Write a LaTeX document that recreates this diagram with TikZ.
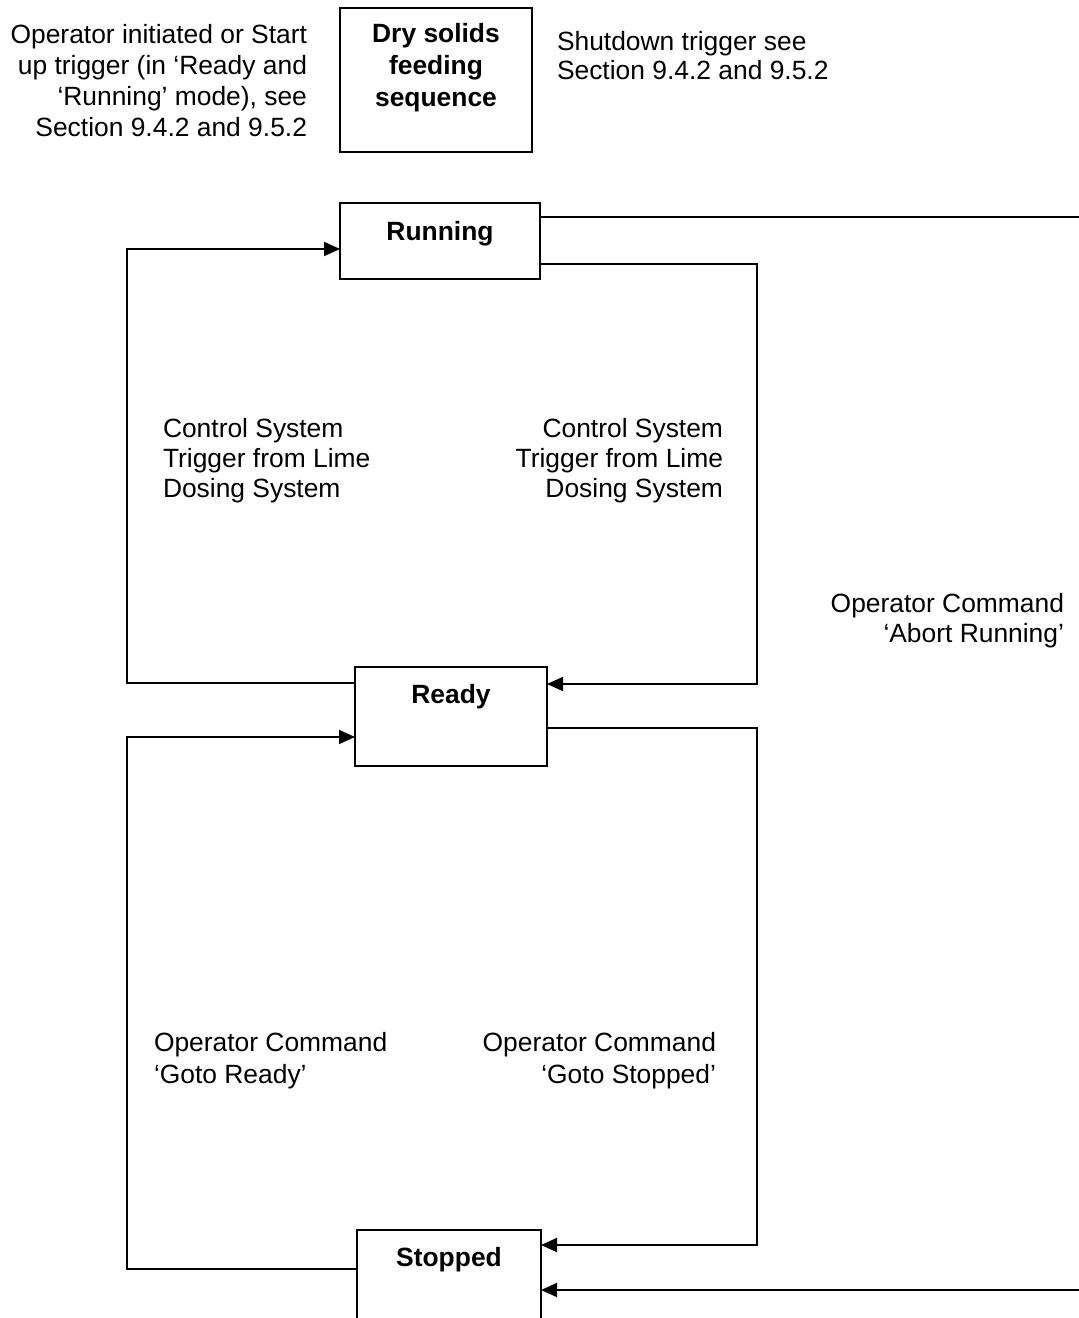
\documentclass[tikz,border=0pt]{standalone}
\usepackage{fontspec}
\setmainfont{Liberation Sans}
\usetikzlibrary{arrows.meta}

\begin{document}
\begin{tikzpicture}[
  x=1pt, y=-1pt,
  every node/.style={inner sep=0pt, outer sep=0pt},
  statebox/.style={draw, line width=1.7pt, anchor=north west},
  boxtext/.style={anchor=north, align=center,
    font=\fontsize{26.4}{32}\selectfont\bfseries},
  note/.style={font=\fontsize{26.4}{#1}\selectfont},
  note/.default=30,
  arr/.style={line width=1.7pt, -{Triangle[length=16pt,width=14pt]}}
]
\clip (0,0) rectangle (1079,1318);

% state boxes
\node[statebox, minimum width=192pt, minimum height=144pt,
  label={[boxtext, yshift=-15.5pt]north:Dry solids\\feeding\\sequence}]
  (dry) at (340,8) {};
\node[statebox, minimum width=200pt, minimum height=76pt,
  label={[boxtext, yshift=-18.5pt]north:Running}]
  (run) at (340,203) {};
\node[statebox, minimum width=192pt, minimum height=99pt,
  label={[boxtext, yshift=-17.5pt]north:Ready}]
  (ready) at (355,667) {};
\node[statebox, minimum width=184pt, minimum height=110pt,
  label={[boxtext, yshift=-17.5pt]north:Stopped}]
  (stop) at (357,1230) {};

% text beside the feeding sequence box
\node[note=31.2, anchor=north east, align=right] (starttxt) at (307,24)
  {Operator initiated or Start\\up trigger (in ‘Ready and\\‘Running’ mode), see\\Section 9.4.2 and 9.5.2};
\node[note=29, anchor=north west, align=left] (shuttxt) at (557,31.5)
  {Shutdown trigger see\\Section 9.4.2 and 9.5.2};

% transition labels
\node[note=30, anchor=north west, align=left] (ctrlup) at (163,418.5)
  {Control System\\Trigger from Lime\\Dosing System};
\node[note=30, anchor=north east, align=right] (ctrldown) at (723,418.5)
  {Control System\\Trigger from Lime\\Dosing System};
\node[note=30, anchor=north east, align=right] (aborttxt) at (1064,593.5)
  {Operator Command\\‘Abort Running’};
\node[note=32, anchor=north west, align=left] (readytxt) at (154,1032.5)
  {Operator Command\\‘Goto Ready’};
\node[note=32, anchor=north east, align=right] (stoptxt) at (716,1032.5)
  {Operator Command\\‘Goto Stopped’};

% connection points on the boxes
\coordinate (r1) at ([yshift=24pt]run.east);
\coordinate (r2) at ([yshift=-23pt]run.east);
\coordinate (r3) at ([yshift=-8pt]run.west);
\coordinate (d1) at ([yshift=32.5pt]ready.east);
\coordinate (d2) at ([yshift=-11.5pt]ready.east);
\coordinate (d3) at ([yshift=33.5pt]ready.west);
\coordinate (d4) at ([yshift=-20.5pt]ready.west);
\coordinate (s1) at ([yshift=40pt]stop.east);
\coordinate (s2) at ([yshift=-5pt]stop.east);
\coordinate (s3) at ([yshift=16pt]stop.west);

% transitions
\draw[arr] (r2) -| (757,684) -- (d1);
\draw[arr] (d3) -| (127,249) -- (r3);
\draw[arr] (d2) -| (757,1245) -- (s1);
\draw[arr] (s3) -| (127,737) -- (d4);
\draw[arr] (r1) -- (1100,217) |- (s2);
\end{tikzpicture}
\end{document}
